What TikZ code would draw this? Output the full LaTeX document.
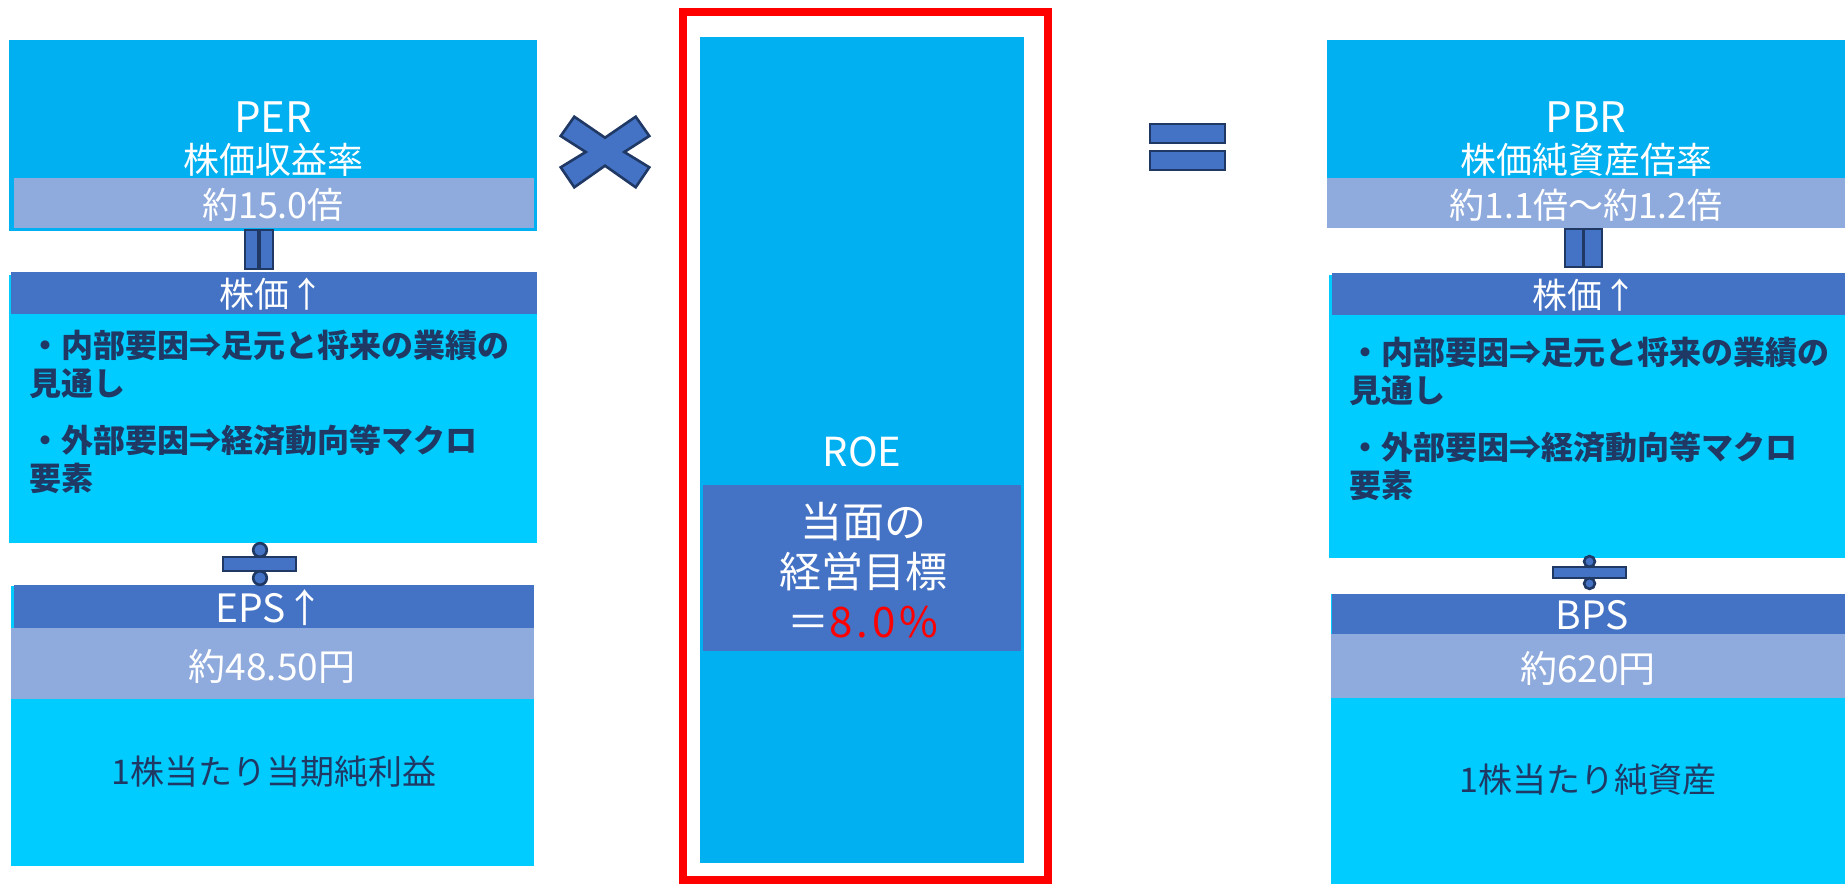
\documentclass[tikz,border=0pt]{standalone}
\usepackage{fontspec}
\setmainfont{Noto Sans CJK JP}
\usetikzlibrary{fit}
\definecolor{cTop}{HTML}{00B0F0}
\definecolor{cCyan}{HTML}{00CCFF}
\definecolor{cHead}{HTML}{4472C4}
\definecolor{cBand}{HTML}{8FAADC}
\definecolor{cDark}{HTML}{203864}
\definecolor{cLine}{HTML}{1F3864}
\definecolor{cRed}{HTML}{FF0000}
\begin{document}
\begin{tikzpicture}[x=0.5pt,y=-0.5pt,
  area/.style={inner sep=0pt, outer sep=0pt, draw=none},
  wt/.style={text=white, inner sep=0pt, align=center},
  dk/.style={text=cDark, inner sep=0pt},
  sym/.style={fill=cHead, draw=cLine, line width=1.3pt, line join=miter},
]
\useasboundingbox (0,0) rectangle (1845,884);

% ---------- left column ----------
\node[area, fill=cTop,  fit={(9,40) (537,231)}]   (perbox)  {};
\node[area, fill=cBand, fit={(14,178) (534,228)}] (perband) {};
\node[area, fill=cCyan, fit={(9,275) (537,543)}]  (lbody)   {};
\node[area, fill=cHead, fit={(11,272) (537,314)}] (lhead)   {};
\node[area, fill=cCyan, fit={(11,586) (534,866)}] (epsbody) {};
\node[area, fill=cHead, fit={(14,585) (534,628)}] (epshead) {};
\node[area, fill=cBand, fit={(11,628) (534,699)}] (epsband) {};

\node[wt, font=\fontsize{21}{24}\selectfont] (pertitle) at (273,117) {PER};
\node[wt, font=\fontsize{18}{21}\selectfont] (persub) at (273,160) {株価収益率};
\node[wt, font=\fontsize{18}{21}\selectfont] (perval) at (273,205) {約15.0倍};
\node[wt, font=\fontsize{17.5}{21}\selectfont] (lheadtxt) at (272,294) {株価↑};
\node[dk, font=\bfseries\fontsize{16}{19}\selectfont, align=left, anchor=west] (lbul) at (29,411.5)
  {・内部要因⇒足元と将来の業績の\\見通し\\[9.5pt]・外部要因⇒経済動向等マクロ\\要素};
\node[wt, font=\fontsize{19.5}{22}\selectfont] (epstitle) at (270,608) {EPS↑};
\node[wt, font=\fontsize{18.5}{22}\selectfont] (epsval) at (272,666) {約48.50円};
\node[dk, font=\fontsize{17}{20}\selectfont] (epstxt) at (274,772) {1株当たり当期純利益};

% = (vertical) and ÷ on the left
\path[sym] (245,230) rectangle (258,269);
\path[sym] (260,230) rectangle (273,269);
\path[sym] (223,557) rectangle (296,571);
\path[sym] (260,550) circle[radius=3.4pt];
\path[sym] (260,578) circle[radius=3.4pt];

% × sign
\path[sym] (560.7,136) -- (574.3,116.7) -- (605,137.7) -- (635.7,116.7) -- (649.3,136)
  -- (624.3,152) -- (649.3,167.3) -- (635.7,187.3) -- (605,165.7) -- (574.3,187.3)
  -- (560.7,167.3) -- (585.7,152) -- cycle;

% ---------- middle ----------
\node[area, draw=cRed, line width=4pt, fit={(683,12) (1048,880)}] (frame) {};
\node[area, fill=cTop,  fit={(700,37) (1024,863)}]  (roebox)  {};
\node[area, fill=cHead, fit={(703,485) (1021,651)}] (roeband) {};
\node[wt, font=\fontsize{20}{24}\selectfont] (roetxt) at (862,452) {ROE};
\node[wt, font=\fontsize{21}{25}\selectfont] (roegoal) at (863,570)
  {当面の\\経営目標\\＝\textcolor{cRed}{\addfontfeature{LetterSpace=9}8.0\%}};

% = sign
\path[sym] (1150,124) rectangle (1225,143);
\path[sym] (1150,151) rectangle (1225,170);

% ---------- right column ----------
\node[area, fill=cTop,  fit={(1327,40) (1845,228)}]   (pbrbox)  {};
\node[area, fill=cBand, fit={(1327,178) (1845,228)}]  (pbrband) {};
\node[area, fill=cCyan, fit={(1329,275) (1845,558)}]  (rbody)   {};
\node[area, fill=cHead, fit={(1332,273) (1845,315)}]  (rhead)   {};
\node[area, fill=cCyan, fit={(1331,594) (1845,884)}]  (bpsbody) {};
\node[area, fill=cHead, fit={(1332,594) (1845,634)}]  (bpshead) {};
\node[area, fill=cBand, fit={(1331,634) (1845,698)}]  (bpsband) {};

\node[wt, font=\fontsize{21}{24}\selectfont] (pbrtitle) at (1586,117) {PBR};
\node[wt, font=\fontsize{18}{21}\selectfont] (pbrsub) at (1586,160) {株価純資産倍率};
\node[wt, font=\fontsize{17.5}{21}\selectfont] (pbrval) at (1586,205) {約1.1倍〜約1.2倍};
\node[wt, font=\fontsize{17.5}{21}\selectfont] (rheadtxt) at (1585,295) {株価↑};
\node[dk, font=\bfseries\fontsize{16}{19}\selectfont, align=left, anchor=west] (rbul) at (1349,418.5)
  {・内部要因⇒足元と将来の業績の\\見通し\\[9.5pt]・外部要因⇒経済動向等マクロ\\要素};
\node[wt, font=\fontsize{19.5}{22}\selectfont] (bpstitle) at (1592,615) {BPS};
\node[wt, font=\fontsize{18.5}{22}\selectfont] (bpsval) at (1588,668) {約620円};
\node[dk, font=\fontsize{17}{20}\selectfont] (bpstxt) at (1588,780) {1株当たり純資産};

% = (vertical) and ÷ on the right
\path[sym] (1565,229) rectangle (1583,267);
\path[sym] (1584,229) rectangle (1602,267);
\path[sym] (1553,567) rectangle (1626,578);
\path[sym] (1589.5,561.5) circle[radius=2.7pt];
\path[sym] (1589.5,583.5) circle[radius=2.7pt];
\end{tikzpicture}
\end{document}
